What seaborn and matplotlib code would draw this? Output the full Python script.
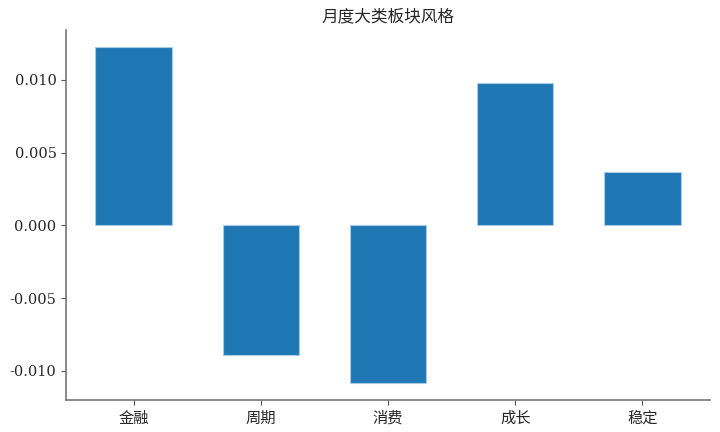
import pandas as pd
import matplotlib
matplotlib.use('Agg')
import matplotlib.pyplot as plt
import seaborn as sns

# datos del grafico
categorias = ['金融', '周期', '消费', '成长', '稳定']
valores = [0.01228, -0.00893, -0.01085, 0.00975, 0.00368]

df = pd.DataFrame({'板块': categorias, '收益': valores})

sns.set_style('ticks')
plt.rcParams['font.family'] = ['DejaVu Serif', 'Noto Sans CJK SC']
plt.rcParams['axes.unicode_minus'] = False

fig, ax = plt.subplots(figsize=(7.2, 4.32), dpi=100)
sns.barplot(data=df, x='板块', y='收益', color='#1f77b4', saturation=1,
            width=0.6, edgecolor='#a9cbe6', linewidth=0.8, ax=ax)

ax.set_title('月度大类板块风格', fontsize=12, family=['Noto Sans CJK SC'])
ax.set_xlabel('')
ax.set_ylabel('')
ax.set_xlim(-0.53, 4.53)
ax.tick_params(axis='y', labelsize=10.5, color='#555555', labelfontfamily='DejaVu Serif')
ax.tick_params(axis='x', labelsize=11, color='#555555', labelfontfamily='Noto Sans CJK SC')

sns.despine(ax=ax)
for s in ['left', 'bottom']:
    ax.spines[s].set_color('#777777')
    ax.spines[s].set_linewidth(1.2)

fig.subplots_adjust(left=0.092, right=0.986, top=0.931, bottom=0.074)
plt.savefig('out.png', dpi=100)
